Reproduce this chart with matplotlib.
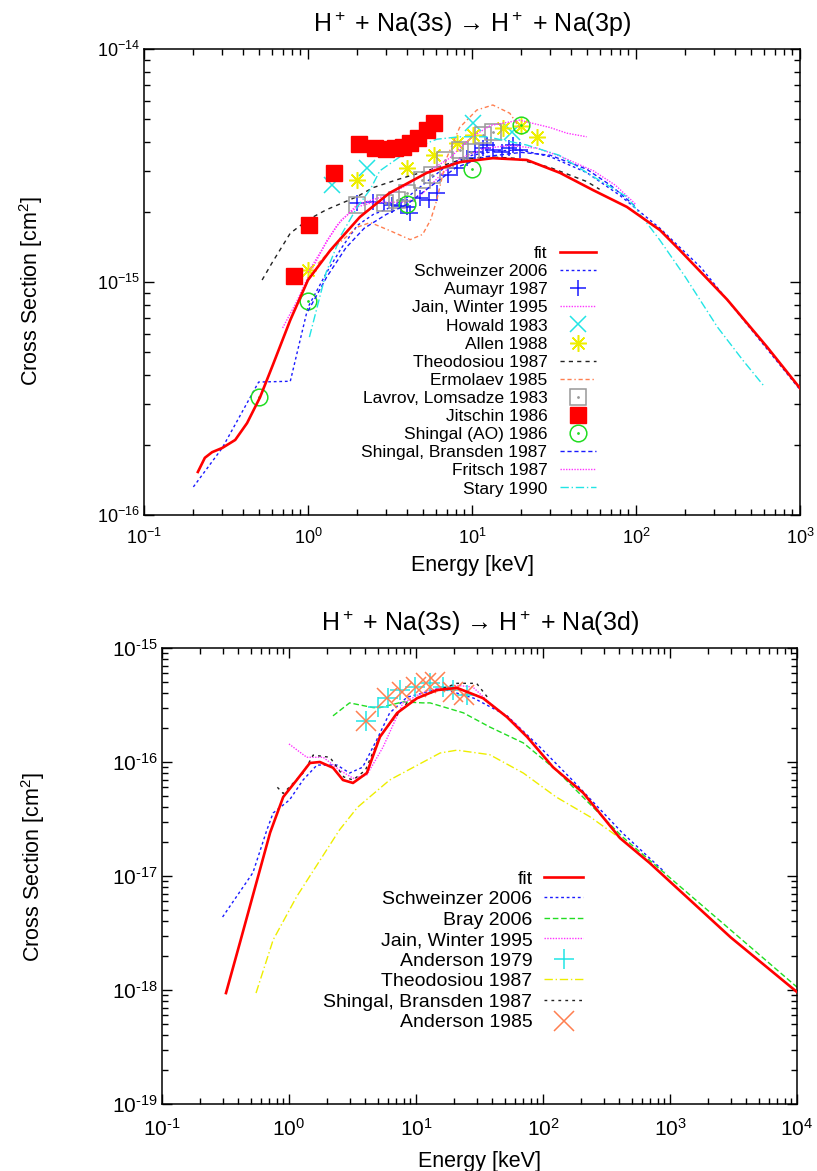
import matplotlib
matplotlib.use("Agg")
import matplotlib.pyplot as plt
from matplotlib.ticker import FixedLocator, LogLocator, NullFormatter
from matplotlib.legend_handler import HandlerTuple

plt.rcParams['font.family'] = ['Liberation Sans', 'DejaVu Sans']
plt.rcParams['mathtext.fontset'] = 'custom'
plt.rcParams['mathtext.rm'] = 'Liberation Sans'
plt.rcParams['mathtext.it'] = 'Liberation Sans:italic'
plt.rcParams['mathtext.bf'] = 'Liberation Sans:bold'

# ---------------- Na(3s) -> Na(3p) ----------------
fit_p_E = [0.213, 0.235, 0.26, 0.30, 0.36, 0.425, 0.51, 0.61, 0.78, 1.0, 1.37, 2.07,
           3.14, 5.3, 8.45, 13.4, 21.6, 34.4, 54.7, 88, 140, 185, 360, 630, 1000]
fit_p_s = [1.53e-16, 1.76e-16, 1.86e-16, 1.94e-16, 2.1e-16, 2.48e-16, 3.2e-16, 4.4e-16,
           6.87e-16, 1.02e-15, 1.37e-15, 1.9e-15, 2.41e-15, 2.94e-15, 3.27e-15, 3.4e-15,
           3.34e-15, 2.94e-15, 2.48e-15, 2.1e-15, 1.67e-15, 1.37e-15, 8.4e-16, 5.26e-16, 3.5e-16]

schw_p_E = [0.2, 0.3, 0.5, 0.78, 1.0, 1.3, 1.6, 2.0, 2.5, 3.0, 4.0, 5.5, 7.0, 10, 14, 19.5,
            30, 50, 80, 140, 250, 500, 1000]
schw_p_s = [1.32e-16, 1.94e-16, 3.72e-16, 3.75e-16, 7.8e-16, 1.1e-15, 1.4e-15, 1.75e-15,
            1.95e-15, 2.05e-15, 2.3e-15, 2.75e-15, 3.15e-15, 3.5e-15, 3.65e-15, 3.69e-15,
            3.45e-15, 2.95e-15, 2.35e-15, 1.7e-15, 1.15e-15, 6.3e-16, 3.45e-16]

aumayr_E = [2.0, 2.5, 2.9, 3.25, 3.7, 4.0, 4.2, 4.8, 5.5, 6.1, 7.1, 8.1, 9.3, 10.4, 11.7,
            12.4, 13.4, 15.2, 16.7, 17.8, 19.5]
aumayr_s = [2.18e-15, 2.2e-15, 2.18e-15, 2.14e-15, 2.12e-15, 2.1e-15, 1.97e-15, 2.3e-15,
            2.25e-15, 2.4e-15, 2.88e-15, 3.1e-15, 3.4e-15, 3.6e-15, 3.76e-15, 3.87e-15,
            3.7e-15, 3.6e-15, 3.76e-15, 3.86e-15, 3.7e-15]

jain_p_E = [0.70, 0.85, 1.0, 1.3, 1.6, 2.0, 2.5, 3.0, 4.0, 5.0, 6.5, 8.5, 12, 17, 25, 35,
            55, 75, 100]
jain_p_s = [6.35e-16, 8.2e-16, 1.05e-15, 1.5e-15, 1.85e-15, 2.1e-15, 2.2e-15, 2.2e-15,
            2.2e-15, 2.4e-15, 2.9e-15, 3.4e-15, 3.75e-15, 3.85e-15, 3.75e-15, 3.45e-15,
            3.0e-15, 2.6e-15, 2.15e-15]

howald_E = [1.41, 2.28, 10.1, 17.5]
howald_s = [2.6e-15, 3.1e-15, 4.8e-15, 4.4e-15]

allen_E = [1.0, 1.99, 4.0, 5.9, 8.1, 10.1, 15.4, 20, 24.8]
allen_s = [1.13e-15, 2.74e-15, 3.08e-15, 3.5e-15, 3.95e-15, 4.27e-15, 4.6e-15, 4.65e-15, 4.2e-15]

theo_p_E = [0.525, 0.6, 0.78, 1.0, 1.29, 1.98, 2.49, 3.5, 5.3, 8, 12, 18, 30, 50, 60]
theo_p_s = [1.02e-15, 1.2e-15, 1.62e-15, 1.85e-15, 2.04e-15, 2.32e-15, 2.54e-15, 2.75e-15,
            3.0e-15, 3.3e-15, 3.45e-15, 3.4e-15, 3.1e-15, 2.7e-15, 2.5e-15]

ermo_E = [1.15, 1.35, 1.6, 2.0, 2.4, 3.1, 4.2, 5.0, 5.6, 6.1, 7.0, 8.4, 10.7, 13.4, 17, 19.5]
ermo_s = [1.2e-15, 1.35e-15, 1.5e-15, 1.72e-15, 1.8e-15, 1.67e-15, 1.52e-15, 1.6e-15,
          1.85e-15, 2.25e-15, 3.4e-15, 4.6e-15, 5.47e-15, 5.75e-15, 5.3e-15, 4.6e-15]

lavrov_E = [2.0, 2.95, 3.5, 4.0, 4.95, 5.7, 6.8, 8.4, 9.9, 11.7, 13.4]
lavrov_s = [2.14e-15, 2.18e-15, 2.25e-15, 2.4e-15, 2.74e-15, 2.88e-15, 3.34e-15, 3.68e-15,
            3.6e-15, 4.27e-15, 4.4e-15]

jitschin_E = [0.82, 1.02, 1.45, 2.05, 2.55, 3.0, 3.4, 3.8, 4.2, 4.7, 5.3, 5.9]
jitschin_s = [1.06e-15, 1.76e-15, 2.93e-15, 3.91e-15, 3.76e-15, 3.72e-15, 3.75e-15, 3.8e-15,
              3.95e-15, 4.15e-15, 4.5e-15, 4.8e-15]

shingal_ao_E = [0.5, 1.0, 4.0, 10, 20]
shingal_ao_s = [3.2e-16, 8.3e-16, 2.16e-15, 3.06e-15, 4.72e-15]

shb_p_E = [1.0, 1.3, 1.7, 2.2, 3.0, 4.0, 5.5, 8, 12, 20, 30, 50, 70, 100]
shb_p_s = [7.5e-16, 1.05e-15, 1.4e-15, 1.7e-15, 1.95e-15, 2.15e-15, 2.55e-15, 3.1e-15,
           3.45e-15, 3.6e-15, 3.5e-15, 3.05e-15, 2.6e-15, 2.1e-15]

fritsch_E = [1.0, 1.5, 2.0, 3.0, 4.0, 5.5, 7.3, 10, 13, 19.5, 30, 38, 50]
fritsch_s = [1.1e-15, 1.75e-15, 2.15e-15, 2.35e-15, 2.6e-15, 3.0e-15, 3.4e-15, 4.2e-15,
             4.7e-15, 4.95e-15, 4.6e-15, 4.35e-15, 4.2e-15]

stary_E = [1.02, 1.29, 1.6, 2.0, 2.4, 2.74, 4.2, 6.1, 8.4, 12.3, 21.6, 34, 55, 88, 140,
           200, 314, 450, 610]
stary_s = [5.8e-16, 1.1e-15, 1.6e-15, 2.1e-15, 2.5e-15, 3.0e-15, 3.7e-15, 4.1e-15, 4.2e-15,
           4.2e-15, 3.87e-15, 3.5e-15, 2.83e-15, 2.32e-15, 1.51e-15, 1.05e-15, 6.4e-16,
           4.6e-16, 3.54e-16]

# ---------------- Na(3s) -> Na(3d) ----------------
fit_d_E = [0.319, 0.41, 0.54, 0.71, 0.90, 1.15, 1.46, 1.75, 2.22, 2.66, 3.19, 4.1, 5.2, 7.1,
           10.2, 14.6, 21, 33.7, 52, 75, 120, 207, 404, 692, 3000, 10000]
fit_d_s = [9.4e-19, 2.58e-18, 7.9e-18, 2.4e-17, 4.93e-17, 6.95e-17, 9.8e-17, 1.0e-16, 8.9e-17,
           6.95e-17, 6.55e-17, 8.0e-17, 1.66e-16, 2.69e-16, 3.63e-16, 4.27e-16, 4.47e-16,
           3.63e-16, 2.48e-16, 1.66e-16, 9.0e-17, 5.37e-17, 2.15e-17, 1.3e-17, 2.9e-18, 9.6e-19]

schw_d_E = [0.30, 0.52, 0.67, 0.75, 1.01, 1.29, 1.66, 2.39, 3.0, 3.8, 4.9, 6.2, 8.5, 12,
            15.5, 28.5, 52, 94, 170, 423, 910]
schw_d_s = [4.37e-18, 1.07e-17, 2.54e-17, 3.57e-17, 4.65e-17, 6.95e-17, 9.4e-17, 9.4e-17,
            8.0e-17, 9.0e-17, 1.56e-16, 2.69e-16, 3.7e-16, 4.1e-16, 4.45e-16, 3.63e-16,
            2.55e-16, 1.36e-16, 6.95e-17, 2.38e-17, 1.08e-17]

bray_E = [2.22, 3.0, 4.6, 5.2, 7.9, 11.3, 12.9, 23.6, 38, 70, 127, 423, 10000]
bray_s = [2.54e-16, 3.3e-16, 3.0e-16, 3.0e-16, 3.37e-16, 3.3e-16, 3.3e-16, 2.7e-16, 2.03e-16,
          1.47e-16, 8.5e-17, 2.2e-17, 1.06e-18]

jain_d_E = [1.0, 1.38, 1.86, 2.5, 3.2, 4.1, 5.5, 7.9, 12, 21, 28, 38, 60, 94]
jain_d_s = [1.44e-16, 1.1e-16, 1.1e-16, 8.5e-17, 7.2e-17, 7.7e-17, 1.35e-16, 3.3e-16,
            4.2e-16, 4.7e-16, 4.55e-16, 3.3e-16, 2.2e-16, 1.27e-16]

and79_E = [4.04, 5.0, 6.0, 7.5, 9.8, 12.9, 16.3, 19.5, 25]
and79_s = [2.29e-16, 3.05e-16, 3.63e-16, 4.27e-16, 4.55e-16, 4.9e-16, 4.55e-16, 4.27e-16, 3.9e-16]

theo_d_E = [0.55, 0.75, 1.15, 2.5, 3.46, 6.2, 15.5, 21, 38, 70, 127, 235, 480]
theo_d_s = [9.4e-19, 2.75e-18, 6.6e-18, 2.54e-17, 4.0e-17, 6.95e-17, 1.2e-16, 1.27e-16,
            1.16e-16, 8.0e-17, 4.93e-17, 3.3e-17, 1.87e-17]

shb_d_E = [0.81, 0.9, 1.29, 1.55, 2.1, 2.7, 3.2, 4.0, 5.2, 8.5, 12, 21, 30, 38]
shb_d_s = [6.0e-17, 5.3e-17, 8.0e-17, 1.15e-16, 1.1e-16, 7.4e-17, 6.95e-17, 8.5e-17,
           1.7e-16, 3.3e-16, 3.9e-16, 4.9e-16, 4.9e-16, 3.5e-16]

and85_E = [4.04, 5.9, 7.8, 10, 12, 14, 19.5, 24]
and85_s = [2.29e-16, 3.63e-16, 4.1e-16, 4.55e-16, 4.9e-16, 5.0e-16, 4.1e-16, 3.9e-16]

RED = '#ff0000'
BLUE = '#1a1aff'
MAG = '#ff33ff'
CYAN = '#22e5e5'
YEL = '#eeee00'
GREEN = '#22dd22'
ORANGE = '#ff7f50'
GRAY = '#999999'
BLACK = '#222222'
LW = 1.0

fig = plt.figure(figsize=(8.17, 11.71), dpi=100)
W, H = 817.0, 1171.0
ax1 = fig.add_axes([144 / W, 1 - 515 / H, 656 / W, 466 / H])
ax2 = fig.add_axes([162 / W, 1 - 1104 / H, 635 / W, 456 / H])


def style_axes(ax, xmaj, ymaj, xlabels, ylabels, fs, xpad):
    ax.set_xscale('log')
    ax.set_yscale('log')
    ax.xaxis.set_major_locator(FixedLocator(xmaj))
    ax.yaxis.set_major_locator(FixedLocator(ymaj))
    ax.xaxis.set_minor_locator(LogLocator(base=10, subs=range(2, 10), numticks=50))
    ax.yaxis.set_minor_locator(LogLocator(base=10, subs=range(2, 10), numticks=50))
    ax.xaxis.set_minor_formatter(NullFormatter())
    ax.yaxis.set_minor_formatter(NullFormatter())
    ax.set_xticklabels(xlabels, fontsize=fs)
    ax.set_yticklabels(ylabels, fontsize=fs)
    ax.tick_params(which='both', direction='in', top=True, right=True, width=1.0)
    ax.tick_params(which='major', length=7)
    ax.tick_params(which='minor', length=4)
    ax.tick_params(axis='x', which='major', pad=xpad)
    ax.tick_params(axis='y', which='major', pad=3)
    for sp in ax.spines.values():
        sp.set_linewidth(1.1)


# ---- top panel ----
ax1.plot(fit_p_E, fit_p_s, color=RED, lw=1.9, label='fit', zorder=5)
ax1.plot(schw_p_E, schw_p_s, color=BLUE, lw=LW, ls=(0, (2, 2)), label='Schweinzer 2006')
ax1.plot(aumayr_E, aumayr_s, ls='none', marker='+', ms=11, mew=1.1, color=BLUE, label='Aumayr 1987')
ax1.plot(jain_p_E, jain_p_s, color=MAG, lw=LW, ls=(0, (1, 1)), label='Jain, Winter 1995')
ax1.plot(howald_E, howald_s, ls='none', marker='x', ms=11, mew=1.1, color=CYAN, label='Howald 1983')
ax1.plot(allen_E, allen_s, ls='none', marker=(8, 2, 0), ms=12, mew=1.1, color=YEL, label='Allen 1988')
ax1.plot(theo_p_E, theo_p_s, color=BLACK, lw=LW, ls=(0, (3, 3)), label='Theodosiou 1987')
ax1.plot(ermo_E, ermo_s, color=ORANGE, lw=LW, ls=(0, (3, 2, 3, 2, 1, 2)), label='Ermolaev 1985')
h_lav = ax1.plot(lavrov_E, lavrov_s, ls='none', marker='s', ms=11, mfc='none', mew=1.1, color=GRAY)[0]
h_lav_dot = ax1.plot(lavrov_E, lavrov_s, ls='none', marker='.', ms=2, color=GRAY)[0]
h_jit = ax1.plot(jitschin_E, jitschin_s, ls='none', marker='s', ms=11, color=RED, zorder=4)[0]
h_sao = ax1.plot(shingal_ao_E, shingal_ao_s, ls='none', marker='o', ms=12, mfc='none', mew=1.1, color=GREEN)[0]
h_sao_dot = ax1.plot(shingal_ao_E, shingal_ao_s, ls='none', marker='.', ms=2, color=GREEN)[0]
h_shb = ax1.plot(shb_p_E, shb_p_s, color=BLUE, lw=LW, ls=(0, (3, 2)))[0]
h_fri = ax1.plot(fritsch_E, fritsch_s, color=MAG, lw=LW, ls=(0, (1, 1)))[0]
h_sta = ax1.plot(stary_E, stary_s, color=CYAN, lw=LW, ls=(0, (6, 2, 1, 2)))[0]

ax1.set_xlim(0.1, 1000)
ax1.set_ylim(1e-16, 1e-14)
style_axes(ax1, [0.1, 1, 10, 100, 1000], [1e-16, 1e-15, 1e-14],
           [r'$10^{-1}$', r'$10^{0}$', r'$10^{1}$', r'$10^{2}$', r'$10^{3}$'],
           [r'$10^{-16}$', r'$10^{-15}$', r'$10^{-14}$'], 13, 9)
ax1.set_title('H$^+$ + Na(3s) \u2192 H$^+$ + Na(3p)', fontsize=18, pad=12)
ax1.set_xlabel('Energy [keV]', fontsize=15.5)
ax1.set_ylabel(r'Cross Section [cm$^2$]', fontsize=15.5)
ax1.xaxis.set_label_coords(0.5, -0.086)
ax1.yaxis.set_label_coords(-0.151, 0.48)

handles, labels = ax1.get_legend_handles_labels()
handles += [(h_lav, h_lav_dot), h_jit, (h_sao, h_sao_dot), h_shb, h_fri, h_sta]
labels += ['Lavrov, Lomsadze 1983', 'Jitschin 1986', 'Shingal (AO) 1986',
           'Shingal, Bransden 1987', 'Fritsch 1987', 'Stary 1990']
ax1.legend(handles, labels, loc='upper right', bbox_to_anchor=(596 / W, 1 - 246 / H),
           bbox_transform=fig.transFigure, frameon=False, markerfirst=False,
           fontsize=12.5, handlelength=2.1, handletextpad=0.7, labelspacing=0.17,
           borderpad=0, borderaxespad=0, numpoints=1,
           handler_map={tuple: HandlerTuple(ndivide=1)})

# ---- bottom panel ----
ax2.plot(fit_d_E, fit_d_s, color=RED, lw=1.9, label='fit', zorder=5)
ax2.plot(schw_d_E, schw_d_s, color=BLUE, lw=LW, ls=(0, (2, 2)), label='Schweinzer 2006')
ax2.plot(bray_E, bray_s, color=GREEN, lw=LW, ls=(0, (4, 2)), label='Bray 2006')
ax2.plot(jain_d_E, jain_d_s, color=MAG, lw=LW, ls=(0, (1, 1)), label='Jain, Winter 1995')
ax2.plot(and79_E, and79_s, ls='none', marker='+', ms=14, mew=1.1, color=CYAN, label='Anderson 1979')
ax2.plot(theo_d_E, theo_d_s, color=YEL, lw=LW, ls=(0, (6, 2, 1, 2)), label='Theodosiou 1987')
ax2.plot(shb_d_E, shb_d_s, color=BLACK, lw=LW, ls=(0, (2, 3)), label='Shingal, Bransden 1987')
ax2.plot(and85_E, and85_s, ls='none', marker='x', ms=14, mew=1.1, color=ORANGE, label='Anderson 1985')

ax2.set_xlim(0.1, 1e4)
ax2.set_ylim(1e-19, 1e-15)
hy = '\u2010'
style_axes(ax2, [0.1, 1, 10, 100, 1000, 1e4], [1e-19, 1e-18, 1e-17, 1e-16, 1e-15],
           [r'$10^{%s1}$' % hy, r'$10^{0}$', r'$10^{1}$', r'$10^{2}$', r'$10^{3}$', r'$10^{4}$'],
           [r'$10^{%s19}$' % hy, r'$10^{%s18}$' % hy, r'$10^{%s17}$' % hy,
            r'$10^{%s16}$' % hy, r'$10^{%s15}$' % hy], 15, 10)
ax2.set_title('H$^+$ + Na(3s) \u2192 H$^+$ + Na(3d)', fontsize=18, pad=12)
ax2.set_xlabel('Energy [keV]', fontsize=15.5)
ax2.set_ylabel(r'Cross Section [cm$^2$]', fontsize=15.5)
ax2.xaxis.set_label_coords(0.5, -0.103)
ax2.yaxis.set_label_coords(-0.181, 0.52)
ax2.legend(loc='upper right', bbox_to_anchor=(583 / W, 1 - 870 / H),
           bbox_transform=fig.transFigure, frameon=False, markerfirst=False,
           fontsize=14, handlelength=2.0, handletextpad=0.6, labelspacing=0.15,
           borderpad=0, borderaxespad=0, numpoints=1)

fig.savefig('out.png', dpi=100)
